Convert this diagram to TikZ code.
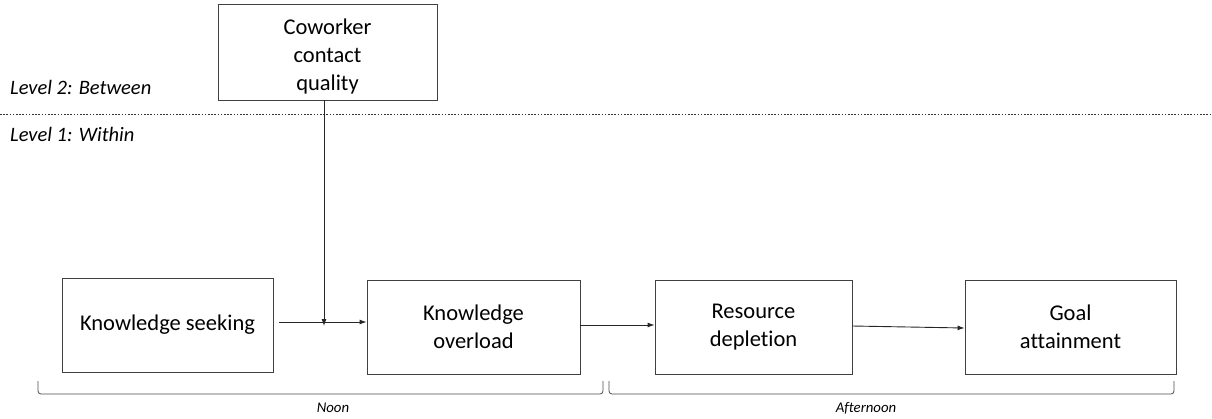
\documentclass[tikz,border=0pt]{standalone}
\usepackage{fontspec}
\setmainfont{Carlito}[Ligatures=NoCommon]
\usetikzlibrary{arrows.meta,calc}
\tikzset{
  box/.style={draw=black!75, line width=0.9pt, align=center, inner sep=0pt,
    font=\fontsize{22.5}{28}\selectfont},
  conn/.style={draw=black!85, line width=0.9pt, -{Latex[length=7pt,width=5pt]}},
  lvl/.style={anchor=base west, font=\fontsize{20.5}{24}\selectfont\itshape, inner sep=0pt},
  per/.style={anchor=base, font=\fontsize{14.8}{18}\selectfont\itshape, inner sep=0pt},
  brk/.style={draw=black!70, line width=0.8pt, rounded corners=3pt},
}
\begin{document}
\begin{tikzpicture}[x=1pt,y=-1pt]
\useasboundingbox (0,0) rectangle (1212,418);
% boxes
\node[box, minimum width=219pt, minimum height=96pt, text height=76pt, text depth=0pt] (cw) at (327.5,52) {Coworker\\contact\\quality};
\node[box, minimum width=211pt, minimum height=94pt] (ks) at (167.5,325) {Knowledge seeking};
\node[box, minimum width=213pt, minimum height=94pt] (ko) at (473.5,327) {Knowledge\\overload};
\node[box, minimum width=197pt, minimum height=94pt] (rd) at (753.5,327) {Resource\\depletion};
\node[box, minimum width=211pt, minimum height=94pt] (ga) at (1070.5,327) {Goal\\attainment};
% level line and labels
\draw[black!80, line width=0.8pt, dash pattern=on 1.6pt off 1.6pt] (0,114) -- (1212,114);
\node[lvl] (l2) at (10,94) {Level 2: Between};
\node[lvl] (l1) at (10,141) {Level 1: Within};
% connectors
\coordinate (ksout) at ($(ks.east |- 0,322)+(6,0)$);
\draw[conn] (ksout) -- (ko.west |- ksout);
\coordinate (mod) at (324,322);
\draw[conn] (cw.south -| mod) -- ([yshift=-4pt]mod);
\draw[conn] (ko.east |- 0,325) -- (rd.west |- 0,325);
\draw[conn] (rd.east |- 0,326) -- (ga.west |- 0,328);
% brackets
\draw[brk] (38,381) -- (38,394) -- (603,394) -- (603,381);
\draw[brk] (609,381) -- (609,394) -- (1174,394) -- (1174,381);
\node[per] (noon) at (333,412) {Noon};
\node[per] (aft) at (866,412) {Afternoon};
\end{tikzpicture}
\end{document}
